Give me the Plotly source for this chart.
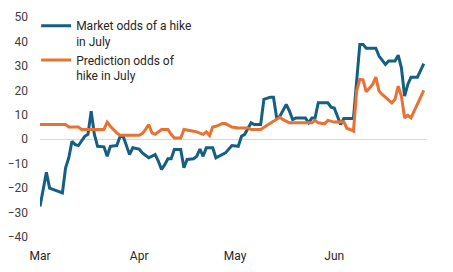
import plotly.graph_objects as go

market_dates = ["2024-03-01","2024-03-03","2024-03-04","2024-03-06","2024-03-08","2024-03-09","2024-03-10","2024-03-11","2024-03-12","2024-03-13","2024-03-15","2024-03-16","2024-03-17","2024-03-18","2024-03-19","2024-03-21","2024-03-22","2024-03-23","2024-03-25","2024-03-26","2024-03-27","2024-03-29","2024-03-30","2024-04-01","2024-04-02","2024-04-04","2024-04-06","2024-04-07","2024-04-08","2024-04-09","2024-04-10","2024-04-11","2024-04-12","2024-04-14","2024-04-15","2024-04-16","2024-04-18","2024-04-19","2024-04-20","2024-04-21","2024-04-22","2024-04-24","2024-04-25","2024-04-28","2024-04-29","2024-04-30","2024-05-02","2024-05-03","2024-05-04","2024-05-06","2024-05-07","2024-05-09","2024-05-10","2024-05-12","2024-05-13","2024-05-14","2024-05-15","2024-05-17","2024-05-18","2024-05-19","2024-05-20","2024-05-23","2024-05-24","2024-05-25","2024-05-26","2024-05-27","2024-05-30","2024-05-31","2024-06-01","2024-06-02","2024-06-03","2024-06-04","2024-06-07","2024-06-08","2024-06-09","2024-06-10","2024-06-11","2024-06-14","2024-06-15","2024-06-17","2024-06-18","2024-06-20","2024-06-21","2024-06-22","2024-06-23","2024-06-24","2024-06-25","2024-06-27","2024-06-29"]
market_odds = [-27.5,-13.5,-20,-21,-22,-11.7,-7.6,-0.8,-2.2,-2.6,1.2,2,11.5,2,-2.9,-3.1,-7,-2.9,-2.6,1,1.2,-6.3,-3.5,-4,-5.6,-7.6,-6.3,-9,-12.4,-10.4,-8,-8,-4.2,-4.2,-11.7,-8.3,-8,-7,-4,-7,-3.5,-3.5,-7.6,-5.6,-4.2,-2.6,-2.9,1.2,2,6.7,6,6,16.3,17.2,17.2,8.7,9.4,14.2,11.5,8,8.7,8.7,6.7,8.7,8.7,14.9,14.9,13.1,12.8,9.4,6,8.5,8.5,23.8,38.8,38.8,37.2,37.2,34,30.6,32,32,34.4,29.2,17.6,22.4,25.4,25.4,30.9]

pred_dates = ["2024-03-01","2024-03-09","2024-03-10","2024-03-13","2024-03-14","2024-03-21","2024-03-22","2024-03-23","2024-03-25","2024-03-26","2024-04-01","2024-04-02","2024-04-03","2024-04-04","2024-04-05","2024-04-06","2024-04-08","2024-04-10","2024-04-11","2024-04-12","2024-04-14","2024-04-15","2024-04-18","2024-04-19","2024-04-21","2024-04-22","2024-04-23","2024-04-24","2024-04-25","2024-04-27","2024-04-28","2024-04-30","2024-05-02","2024-05-05","2024-05-06","2024-05-09","2024-05-11","2024-05-13","2024-05-14","2024-05-15","2024-05-16","2024-05-18","2024-05-25","2024-05-26","2024-05-27","2024-05-29","2024-05-30","2024-06-01","2024-06-04","2024-06-05","2024-06-06","2024-06-07","2024-06-08","2024-06-09","2024-06-10","2024-06-11","2024-06-13","2024-06-14","2024-06-15","2024-06-16","2024-06-19","2024-06-20","2024-06-21","2024-06-22","2024-06-23","2024-06-24","2024-06-25","2024-06-26","2024-06-29"]
pred_odds = [6,6,5,5,4,4,7,5.3,2.6,1.6,1.6,2.3,4,6,2.6,2,4,4,2,0.5,0.5,4,3.3,3,2,3,1.5,5,5.3,6.4,6.4,5,4.6,4.6,4,4,5.7,7.4,8.5,9,8,6.7,6.7,7.7,6.7,6.3,7.7,7,7.1,4.4,4,3.3,19.7,24.5,24.3,19.4,22.4,25.4,19.7,18.3,14.9,16.3,21.7,17.6,8.7,9.8,8.7,11.5,20]

tick_vals = ["2024-03-01","2024-04-01","2024-05-01","2024-06-01"]
tick_text = ["Mar","Apr","May","Jun"]
y_ticks = [50,40,30,20,10,0,-10,-20,-30,-40]

fig = go.Figure()
fig.add_trace(go.Scatter(x=market_dates, y=market_odds, mode="lines",
                         name="Market odds of a hike<br>in July",
                         line=dict(color="#156082", width=3)))
fig.add_trace(go.Scatter(x=pred_dates, y=pred_odds, mode="lines",
                         name="Prediction odds of<br>hike in July",
                         line=dict(color="#E97132", width=3)))

fig.update_layout(
    width=453, height=272,
    margin=dict(l=40, r=26, t=17, b=35, autoexpand=False),
    paper_bgcolor="white", plot_bgcolor="white",
    font=dict(family="Roboto", size=12, color="#404040"),
    showlegend=True,
    legend=dict(x=-0.01, y=1.025, xanchor="left", yanchor="top",
                bgcolor="rgba(0,0,0,0)", font=dict(family="Roboto", size=12, color="#262626"),
                valign="top", tracegroupgap=18, itemwidth=30),
    xaxis=dict(range=["2024-03-01","2024-06-30"], tickvals=tick_vals, ticktext=tick_text,
               showgrid=False, zeroline=False, showline=False, ticks="",
               automargin=False, ticklabelstandoff=10,
               tickfont=dict(size=12, color="#262626")),
    yaxis=dict(range=[-40,50], tickvals=y_ticks, showgrid=False,
               zeroline=True, zerolinecolor="#D9D9D9", zerolinewidth=1,
               showline=False, ticks="", ticklabelstandoff=11, automargin=False,
               tickfont=dict(size=12, color="#404040")),
)
fig.write_html("out.html")
